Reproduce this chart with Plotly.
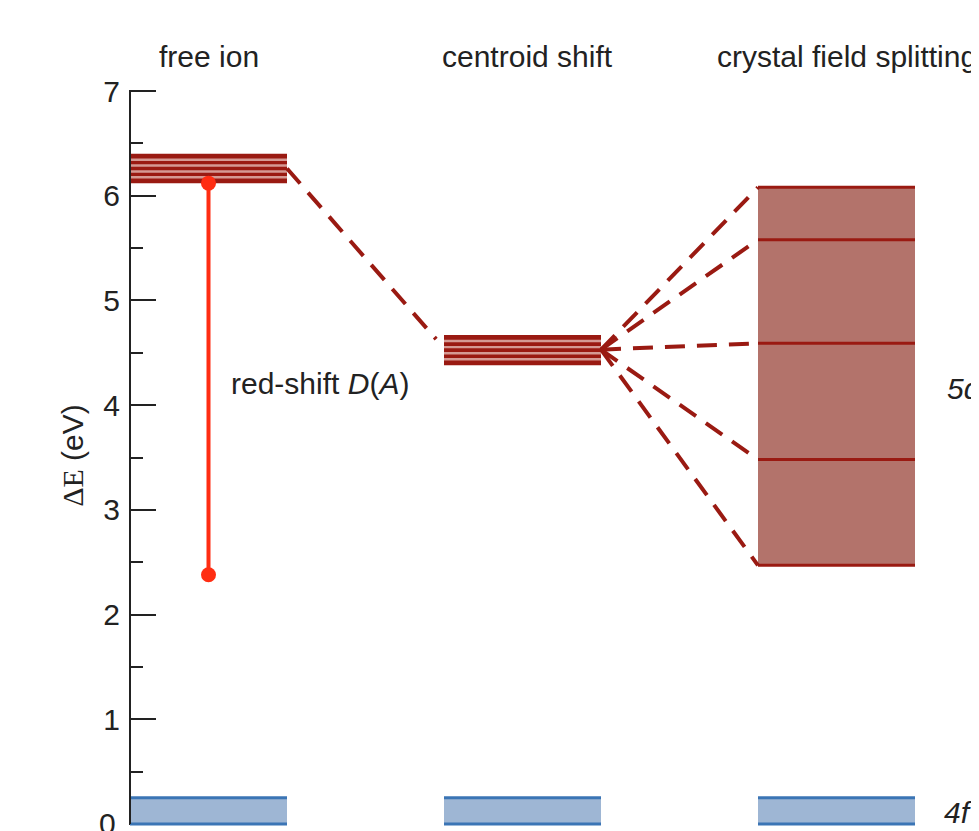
import plotly.graph_objects as go

# ---- data (energies in eV) ----
columns = ["free ion", "centroid shift", "crystal field splitting"]
column_x = [0.0, 2.0, 4.0]          # left edge of each column (width 1)
column_w = 1.0
label_x = [0.5, 2.535, 4.567]

free_ion_band = [6.12, 6.40]        # 5d levels of the free ion
centroid_band = [4.38, 4.67]        # 5d levels after centroid shift
n_sublevels = 5
cf_levels = [6.08, 5.58, 4.59, 3.48, 2.47]   # crystal-field split 5d levels
f_band = [0.0, 0.25]                # 4f ground state band
redshift = [6.12, 2.38]             # red-shift D(A) arrow end points
free_to_centroid = [[1.0, 6.26], [1.95, 4.63]]
fan_origin = [3.0, 4.53]

y_ticks = [0, 1, 2, 3, 4, 5, 6, 7]
y_minor = [0.5, 1.5, 2.5, 3.5, 4.5, 5.5, 6.5]

# ---- styles ----
DARK = "#9a1a12"
LIGHT = "#d59a94"
CF_FILL = "#b3736b"
BLUE_FILL = "#9eb6d4"
BLUE_LINE = "#3b75b5"
RED = "#ff2d12"
FONT = "Liberation Sans, Arial, Helvetica, sans-serif"

fig = go.Figure()


def rect(x0, x1, y0, y1, fill):
    fig.add_trace(go.Scatter(x=[x0, x1, x1, x0, x0], y=[y0, y0, y1, y1, y0],
                             mode="lines", fill="toself", fillcolor=fill,
                             line=dict(width=0), hoverinfo="skip"))


def hline(x0, x1, y, color, width, dash=None):
    fig.add_trace(go.Scatter(x=[x0, x1], y=[y, y], mode="lines",
                             line=dict(color=color, width=width, dash=dash),
                             hoverinfo="skip"))


def striped_band(x0, band):
    lo, hi = band
    rect(x0, x0 + column_w, lo, hi, DARK)
    step = (hi - lo) / n_sublevels
    for k in range(1, n_sublevels):
        hline(x0, x0 + column_w, lo + k * step, LIGHT, 2.4)


# 4f bands
for x0 in column_x:
    rect(x0, x0 + column_w, f_band[0], f_band[1], BLUE_FILL)
    hline(x0, x0 + column_w, f_band[0], BLUE_LINE, 3)
    hline(x0, x0 + column_w, f_band[1], BLUE_LINE, 3)

# free ion and centroid bands
striped_band(column_x[0], free_ion_band)
striped_band(column_x[1], centroid_band)

# crystal field split block
cx0 = column_x[2]
rect(cx0, cx0 + column_w, min(cf_levels), max(cf_levels), CF_FILL)
for lev in cf_levels:
    hline(cx0, cx0 + column_w, lev, DARK, 3)

# dashed connectors
dash = "20px,12px"
fig.add_trace(go.Scatter(x=[p[0] for p in free_to_centroid],
                         y=[p[1] for p in free_to_centroid], mode="lines",
                         line=dict(color=DARK, width=4, dash=dash), hoverinfo="skip"))
for lev in cf_levels:
    fig.add_trace(go.Scatter(x=[fan_origin[0], cx0], y=[fan_origin[1], lev],
                             mode="lines", line=dict(color=DARK, width=4, dash=dash),
                             hoverinfo="skip"))

# red-shift marker line
fig.add_trace(go.Scatter(x=[0.5, 0.5], y=redshift, mode="lines+markers",
                         line=dict(color=RED, width=4),
                         marker=dict(color=RED, size=15), hoverinfo="skip"))

# y axis line (0 .. 7)
fig.add_trace(go.Scatter(x=[0, 0], y=[0, 7], mode="lines",
                         line=dict(color="#222222", width=2), hoverinfo="skip"))

annotations = []
for name, lx in zip(columns, label_x):
    annotations.append(dict(x=lx, y=7.334, xref="x", yref="y", text=name,
                            showarrow=False, xanchor="center", yanchor="middle",
                            font=dict(size=30, color="#222222", family=FONT)))
annotations.append(dict(x=0.631, y=4.21, xref="x", yref="y",
                        text="red-shift <i>D</i>(<i>A</i>)", showarrow=False,
                        xanchor="left", yanchor="middle",
                        font=dict(size=30, color="#222222", family=FONT)))
annotations.append(dict(x=5.19, y=4.16, xref="x", yref="y", text="<i>5d</i>",
                        showarrow=False, xanchor="left", yanchor="middle",
                        font=dict(size=30, color="#222222", family=FONT)))
annotations.append(dict(x=5.17, y=0.114, xref="x", yref="y", text="<i>4f</i>",
                        showarrow=False, xanchor="left", yanchor="middle",
                        font=dict(size=30, color="#222222", family=FONT)))
annotations.append(dict(x=-0.0659, y=3.52, xref="paper", yref="y",
                        text="<span style=\"font-family:'Liberation Serif', 'Times New Roman', serif\">ΔE</span> (eV)",
                        showarrow=False, textangle=-90, xanchor="center", yanchor="middle",
                        font=dict(size=30, color="#222222", family=FONT)))
# the "0" tick label sits at the very bottom edge; placed as text so it is not dropped
annotations.append(dict(x=-0.0128, y=y_ticks[0], xref="paper", yref="y",
                        text=str(y_ticks[0]), showarrow=False,
                        xanchor="right", yanchor="middle",
                        font=dict(size=30, color="#222222", family=FONT)))

# the page adds an 8px body margin; the ranges below compensate for it
fig.update_layout(
    width=979, height=831,
    margin=dict(l=121, r=0, t=0, b=0),
    paper_bgcolor="white", plot_bgcolor="white",
    showlegend=False, hovermode=False,
    annotations=annotations,
    xaxis=dict(range=[-0.00637, 5.4586], visible=False, fixedrange=True),
    yaxis=dict(range=[-0.1433, 7.7927], showgrid=False, zeroline=False,
               showline=False, layer="below traces",
               tickmode="array", tickvals=y_ticks,
               ticktext=[""] + [str(v) for v in y_ticks[1:]],
               ticks="inside", ticklen=27, tickwidth=2, tickcolor="#222222",
               ticklabelstandoff=8,
               tickfont=dict(size=30, color="#222222", family=FONT),
               minor=dict(tickmode="array", tickvals=y_minor, ticks="inside",
                          ticklen=14, tickwidth=2, tickcolor="#222222",
                          showgrid=False),
               fixedrange=True),
)

fig.write_html("out.html", config={"displayModeBar": False})
